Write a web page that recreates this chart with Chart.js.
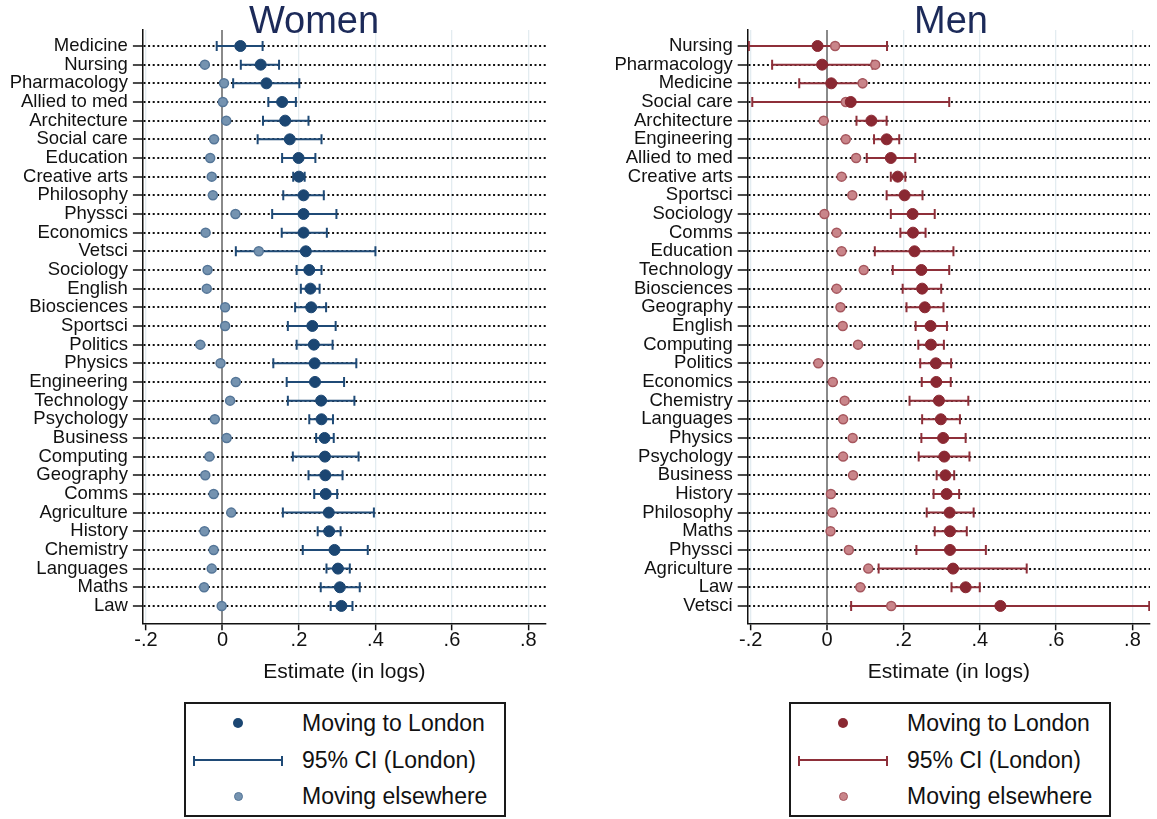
<!DOCTYPE html>
<html>
<head>
<meta charset="utf-8">
<title>Moving to London by subject</title>
<script src="https://cdn.jsdelivr.net/npm/chart.js@4.4.1/dist/chart.umd.min.js"></script>
<style>
  body { margin: 0; background: #fff; font-family: "Liberation Sans", Arial, sans-serif; }
  #page { position: relative; width: 1157px; height: 819px; overflow: hidden; background: #fff; }
  .panel { position: absolute; top: 0; }
  .panel-title { position: absolute; top: -1px; font-size: 38px; line-height: 42px; color: #1c2a59; white-space: nowrap; transform: translateX(-50%); }
  .legend-box { position: absolute; top: 702px; width: 322px; height: 115px; box-sizing: border-box; border: 2px solid #1a1a1a; }
  .legend-text { position: absolute; font-size: 23px; line-height: 26px; color: #111; white-space: nowrap; transform: translateY(-50%); }
  .legend-dot { position: absolute; border-radius: 50%; box-sizing: border-box; }
  .legend-ci { position: absolute; height: 0; }
  .legend-ci span { position: absolute; top: -5px; width: 2px; height: 10px; }
</style>
</head>
<body>
<div id="page">
  <div class="panel" style="left:0px;"><canvas id="womenChart" width="560" height="700"></canvas></div>
  <div class="panel" style="left:590px;"><canvas id="menChart" width="567" height="700"></canvas></div>
  <div class="panel-title" style="left:314px;">Women</div>
  <div class="panel-title" style="left:951px;">Men</div>
  <div class="legend-box" id="womenLegend" style="left:184px;"></div>
  <div class="legend-box" id="menLegend" style="left:789px;"></div>
</div>
<script>
// Datos: mujeres
const womenSubjects = ["Medicine", "Nursing", "Pharmacology", "Allied to med", "Architecture",
  "Social care", "Education", "Creative arts", "Philosophy", "Physsci", "Economics", "Vetsci",
  "Sociology", "English", "Biosciences", "Sportsci", "Politics", "Physics", "Engineering",
  "Technology", "Psychology", "Business", "Computing", "Geography", "Comms", "Agriculture",
  "History", "Chemistry", "Languages", "Maths", "Law"];
const womenLondon = [0.047, 0.100, 0.115, 0.156, 0.164, 0.176, 0.199, 0.200, 0.212, 0.212, 0.212,
  0.218, 0.227, 0.230, 0.232, 0.235, 0.239, 0.241, 0.242, 0.258, 0.259, 0.267, 0.268, 0.269,
  0.270, 0.278, 0.279, 0.293, 0.302, 0.307, 0.311];
const womenLow = [-0.015, 0.048, 0.028, 0.120, 0.106, 0.092, 0.156, 0.185, 0.159, 0.130, 0.155,
  0.035, 0.194, 0.205, 0.190, 0.171, 0.194, 0.133, 0.168, 0.171, 0.227, 0.245, 0.184, 0.225,
  0.240, 0.158, 0.249, 0.210, 0.272, 0.257, 0.283];
const womenHigh = [0.105, 0.148, 0.201, 0.192, 0.225, 0.259, 0.243, 0.215, 0.265, 0.298, 0.273,
  0.400, 0.259, 0.254, 0.271, 0.296, 0.288, 0.350, 0.318, 0.345, 0.289, 0.291, 0.356, 0.314,
  0.300, 0.396, 0.309, 0.380, 0.333, 0.359, 0.340];
const womenElsewhere = [0.045, -0.046, 0.004, 0.001, 0.010, -0.022, -0.032, -0.028, -0.025, 0.034,
  -0.044, 0.095, -0.039, -0.041, 0.007, 0.007, -0.058, -0.005, 0.035, 0.020, -0.020, 0.011,
  -0.034, -0.045, -0.023, 0.023, -0.047, -0.023, -0.028, -0.048, -0.002];

// Datos: hombres
const menSubjects = ["Nursing", "Pharmacology", "Medicine", "Social care", "Architecture",
  "Engineering", "Allied to med", "Creative arts", "Sportsci", "Sociology", "Comms", "Education",
  "Technology", "Biosciences", "Geography", "English", "Computing", "Politics", "Economics",
  "Chemistry", "Languages", "Physics", "Psychology", "Business", "History", "Philosophy", "Maths",
  "Physsci", "Agriculture", "Law", "Vetsci"];
const menLondon = [-0.025, -0.013, 0.011, 0.062, 0.116, 0.156, 0.167, 0.185, 0.203, 0.224, 0.225,
  0.229, 0.247, 0.249, 0.256, 0.271, 0.272, 0.285, 0.286, 0.293, 0.298, 0.304, 0.307, 0.310,
  0.313, 0.321, 0.322, 0.322, 0.330, 0.363, 0.454];
const menLow = [-0.205, -0.144, -0.073, -0.196, 0.077, 0.123, 0.104, 0.167, 0.156, 0.167, 0.192,
  0.125, 0.172, 0.198, 0.208, 0.232, 0.239, 0.244, 0.248, 0.216, 0.249, 0.247, 0.240, 0.287,
  0.279, 0.261, 0.282, 0.234, 0.135, 0.326, 0.063];
const menHigh = [0.157, 0.119, 0.093, 0.320, 0.156, 0.189, 0.231, 0.205, 0.250, 0.282, 0.258,
  0.331, 0.320, 0.299, 0.305, 0.314, 0.306, 0.325, 0.324, 0.370, 0.348, 0.363, 0.373, 0.333,
  0.346, 0.384, 0.366, 0.416, 0.523, 0.400, 0.844];
const menElsewhere = [0.021, 0.126, 0.093, 0.049, -0.009, 0.049, 0.076, 0.038, 0.066, -0.007,
  0.025, 0.038, 0.096, 0.025, 0.035, 0.041, 0.081, -0.023, 0.015, 0.046, 0.042, 0.067, 0.042,
  0.068, 0.010, 0.014, 0.009, 0.057, 0.108, 0.087, 0.168];

// Eje X
const xTicks = [-0.2, 0, 0.2, 0.4, 0.6, 0.8];
const xTickLabels = ["-.2", "0", ".2", ".4", ".6", ".8"];
const xMin = -0.208;
const xMax = 0.846;
const legendLabels = ["Moving to London", "95% CI (London)", "Moving elsewhere"];

// Colores de cada panel
const womenColors = { london: "#1b4672", ci: "#1f4a76", elseFill: "#7593b0", elseBorder: "#557698" };
const menColors = { london: "#8a2832", ci: "#8e2f39", elseFill: "#c9858a", elseBorder: "#a6575e" };

document.addEventListener("DOMContentLoaded", function () {
  Chart.defaults.font.family = '"Liberation Sans", Arial, sans-serif';
  Chart.defaults.color = "#111";

  drawPanel("womenChart", womenSubjects, womenLondon, womenLow, womenHigh, womenElsewhere,
    womenColors, { axisWidth: 142.9, padRight: 14 });
  drawPanel("menChart", menSubjects, menLondon, menLow, menHigh, menElsewhere,
    menColors, { axisWidth: 157.7, padRight: 5 });

  buildLegend("womenLegend", womenColors);
  buildLegend("menLegend", menColors);
});

// Segmentos del intervalo: lo, hi y un hueco para cortar la línea
function buildCiPoints(low, high) {
  const points = [];
  low.forEach((lo, i) => {
    points.push({ x: lo, y: i }, { x: high[i], y: i }, { x: null, y: null });
  });
  return points;
}

function drawPanel(canvasId, subjects, london, low, high, elsewhere, colors, layout) {
  const ctx = document.getElementById(canvasId).getContext("2d");
  new Chart(ctx, {
    type: "scatter",
    data: {
      datasets: [
        {
          label: legendLabels[0],
          data: london.map((v, i) => ({ x: v, y: i })),
          pointRadius: 5.5,
          pointBackgroundColor: colors.london,
          pointBorderColor: colors.london,
          pointBorderWidth: 1,
          order: 1,
        },
        {
          label: legendLabels[2],
          data: elsewhere.map((v, i) => ({ x: v, y: i })),
          pointRadius: 4.5,
          pointBackgroundColor: colors.elseFill,
          pointBorderColor: colors.elseBorder,
          pointBorderWidth: 1.5,
          order: 2,
        },
        {
          label: legendLabels[1],
          data: buildCiPoints(low, high),
          showLine: true,
          spanGaps: false,
          borderColor: colors.ci,
          borderWidth: 2,
          pointStyle: "line",
          pointRotation: 90,
          pointRadius: 5,
          pointBorderColor: colors.ci,
          pointBorderWidth: 2,
          order: 3,
        },
      ],
    },
    options: {
      responsive: false,
      animation: false,
      events: [],
      layout: { padding: { top: 30, right: layout.padRight, bottom: 0, left: 0 } },
      plugins: { legend: { display: false }, tooltip: { enabled: false } },
      scales: {
        x: {
          type: "linear",
          min: xMin,
          max: xMax,
          afterBuildTicks: (axis) => { axis.ticks = xTicks.map((v) => ({ value: v })); },
          afterFit: (axis) => { axis.height = 76.7; },
          ticks: {
            padding: 0,
            font: { size: 20, lineHeight: 1 },
            color: "#111",
            callback: (value, index) => xTickLabels[index],
          },
          grid: {
            color: (c) => (c.tick && c.tick.value === 0 ? "#8a8a8a" : "#e3ecf0"),
            lineWidth: (c) => (c.tick && c.tick.value === 0 ? 2 : 1.3),
            tickColor: "#111",
            tickLength: 7,
            tickWidth: 1.5,
          },
          border: { color: "#111", width: 1.5 },
          title: {
            display: true,
            text: "Estimate (in logs)",
            font: { size: 21 },
            color: "#111",
            padding: { top: 0, bottom: 15 },
          },
        },
        y: {
          type: "linear",
          reverse: true,
          min: -0.857,
          max: subjects.length - 1 + 0.93,
          afterBuildTicks: (axis) => { axis.ticks = subjects.map((s, i) => ({ value: i })); },
          afterFit: (axis) => { axis.width = layout.axisWidth; },
          ticks: {
            autoSkip: false,
            padding: 5,
            font: { size: 18.5, lineHeight: 1 },
            color: "#111",
            callback: (value) => subjects[value],
          },
          grid: {
            color: "#111",
            lineWidth: 2,
            tickColor: "#111",
            tickLength: 10,
            tickWidth: 1.5,
            tickBorderDash: [],
          },
          border: { color: "#111", width: 1.5, dash: [2, 2.6] },
        },
      },
    },
  });
}

// Leyenda en recuadro debajo de cada panel
function buildLegend(boxId, colors) {
  const box = document.getElementById(boxId);
  const rows = [19, 56, 92];

  const dot = document.createElement("div");
  dot.className = "legend-dot";
  dot.style.cssText = `left:${52 - 5}px;top:${rows[0] - 5}px;width:10px;height:10px;background:${colors.london};`;
  box.appendChild(dot);

  const ci = document.createElement("div");
  ci.className = "legend-ci";
  ci.style.cssText = `left:7px;top:${rows[1] - 1}px;width:90px;border-top:2px solid ${colors.ci};`;
  ci.innerHTML = `<span style="left:0;background:${colors.ci}"></span><span style="right:0;background:${colors.ci}"></span>`;
  box.appendChild(ci);

  const dot2 = document.createElement("div");
  dot2.className = "legend-dot";
  dot2.style.cssText = `left:${52 - 4.5}px;top:${rows[2] - 4.5}px;width:9px;height:9px;background:${colors.elseFill};border:1.5px solid ${colors.elseBorder};`;
  box.appendChild(dot2);

  legendLabels.forEach((text, i) => {
    const label = document.createElement("div");
    label.className = "legend-text";
    label.style.left = "116px";
    label.style.top = rows[i] + "px";
    label.textContent = text;
    box.appendChild(label);
  });
}
</script>
</body>
</html>
